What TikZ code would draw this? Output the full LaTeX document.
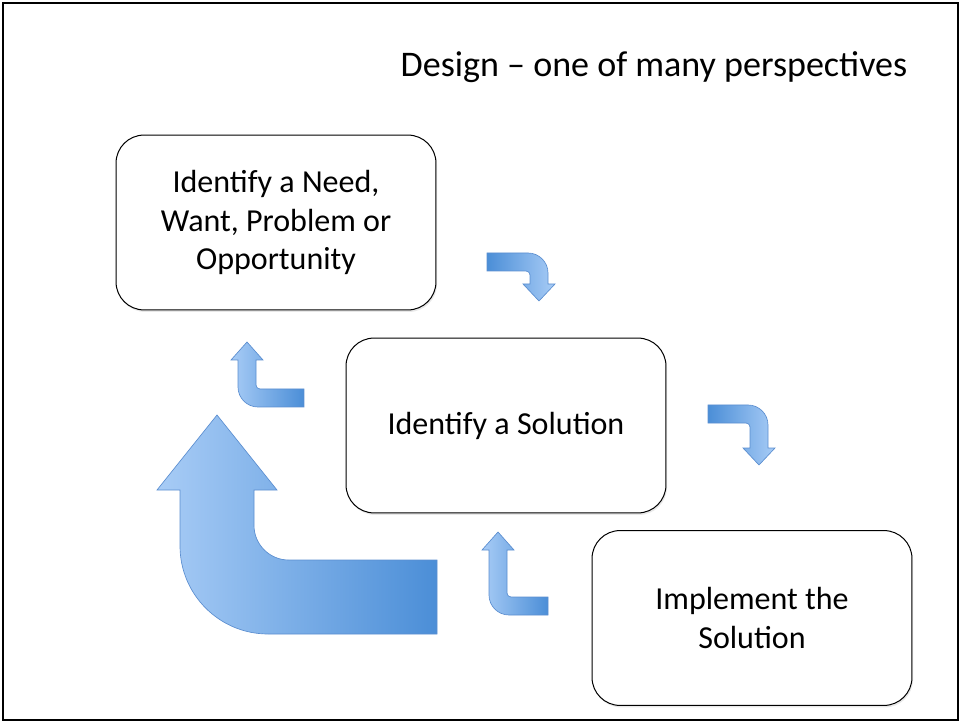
\documentclass[tikz,border=0pt]{standalone}
\usepackage{fontspec}
\setmainfont{Carlito}
\usetikzlibrary{shadows}
\pgfdeclarelayer{edgelayer}
\pgfdeclarelayer{nodelayer}
\pgfsetlayers{edgelayer,nodelayer,main}
\definecolor{flowdark}{HTML}{4B8ED7}
\definecolor{flowlight}{HTML}{A8CCF6}
\definecolor{flowline}{HTML}{5B8ED0}
\tikzstyle{stage}=[rectangle,rounded corners=21pt,draw=black,fill=white,line width=0.75pt,minimum width=239.7pt,minimum height=131pt,align=center,font=\fontsize{24}{28.5}\selectfont,drop shadow={opacity=0.18,shadow xshift=0.8pt,shadow yshift=-1.5pt}]
\tikzstyle{downflow}=[draw=flowline,line width=0.5pt,left color=flowdark,right color=flowlight]
\tikzstyle{upflow}=[draw=flowline,line width=0.5pt,left color=flowlight,right color=flowdark]
% bent block arrows: #1 free end x, #2 band centre y, #3 half width, #4 shaft centre x,
% #5 head base y, #6 tip y, #7 head half width, #8 outer radius, #9 inner radius
\newcommand{\turndown}[9]{%
	\path[downflow] (#1,#2-#3) [rounded corners=#8] -- (#4+#3,#2-#3) [sharp corners] -- (#4+#3,#5) -- (#4+#7,#5) -- (#4,#6) -- (#4-#7,#5) -- (#4-#3,#5) [rounded corners=#9] -- (#4-#3,#2+#3) [sharp corners] -- (#1,#2+#3) -- cycle;}
\newcommand{\turnup}[9]{%
	\path[upflow] (#1,#2-#3) [rounded corners=#9] -- (#4+#3,#2-#3) [sharp corners] -- (#4+#3,#5) -- (#4+#7,#5) -- (#4,#6) -- (#4-#7,#5) -- (#4-#3,#5) [rounded corners=#8] -- (#4-#3,#2+#3) [sharp corners] -- (#1,#2+#3) -- cycle;}
\begin{document}
\begin{tikzpicture}[x=0.7492pt,y=-0.7492pt]
	\useasboundingbox (0,0) rectangle (961,723);
	\draw [line width=1.5pt] (3,3) rectangle (958,720);
	\node [anchor=east,font=\fontsize{27}{33}\selectfont] (title) at (912,67) {Design – one of many perspectives};
	\begin{pgfonlayer}{nodelayer}
		\node [style=stage] (need) at (276,222.5) {Identify a Need,\\Want, Problem or\\Opportunity};
		\node [style=stage] (solution) at (506,425.5) {Identify a Solution};
		\node [style=stage] (implement) at (752,618) {Implement the\\Solution};
	\end{pgfonlayer}
	\begin{pgfonlayer}{edgelayer}
		\turndown{487}{262}{9}{539}{284}{301}{16}{15pt}{3pt}
		\turndown{708}{414}{9}{759}{448}{465}{16}{15pt}{3pt}
		\turnup{304}{398}{9}{247}{360}{342}{16}{15pt}{3pt}
		\turnup{548}{606}{9}{498}{550}{532}{16}{15pt}{3pt}
		\turnup{437}{597}{37}{217}{490}{415}{60}{66pt}{26pt}
	\end{pgfonlayer}
\end{tikzpicture}
\end{document}
